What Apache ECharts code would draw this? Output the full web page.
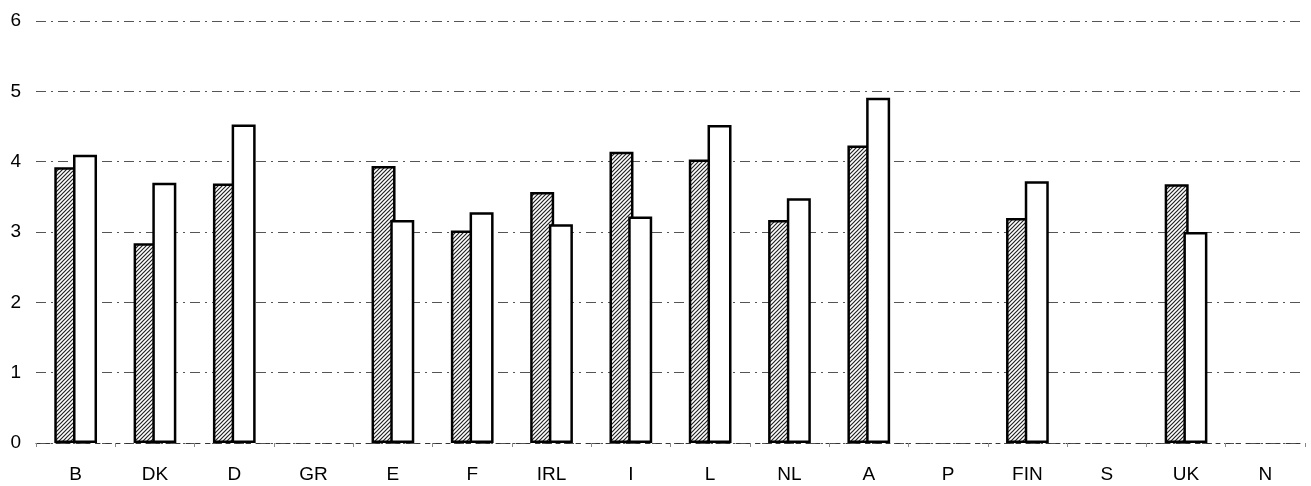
<!DOCTYPE html>
<html>
<head>
<meta charset="utf-8">
<script src="https://cdn.jsdelivr.net/npm/echarts@6/dist/echarts.min.js"></script>
<style>html,body{margin:0;padding:0;background:#fff;}#c{width:1311px;height:486px;}</style>
</head>
<body>
<div id="c"></div>
<script>
const categories = ['B','DK','D','GR','E','F','IRL','I','L','NL','A','P','FIN','S','UK','N'];
const seriesHatched = [3.92, 2.84, 3.69, null, 3.94, 3.02, 3.57, 4.14, 4.03, 3.17, 4.23, null, 3.20, null, 3.68, null];
const seriesWhite   = [4.10, 3.70, 4.53, null, 3.17, 3.28, 3.11, 3.22, 4.52, 3.48, 4.91, null, 3.72, null, 3.00, null];
const yTicks = [0, 1, 2, 3, 4, 5, 6];

function hatch() {
  const c = document.createElement('canvas');
  c.width = 4; c.height = 4;
  const g = c.getContext('2d');
  g.fillStyle = '#fff'; g.fillRect(0, 0, 4, 4);
  g.strokeStyle = '#222'; g.lineWidth = 1.2;
  g.beginPath();
  g.moveTo(-1, 5); g.lineTo(5, -1);
  g.moveTo(-1, 1); g.lineTo(1, -1);
  g.moveTo(3, 5); g.lineTo(5, 3);
  g.stroke();
  return c;
}

const chart = echarts.init(document.getElementById('c'), null, {renderer: 'canvas'});
chart.setOption({
  animation: false,
  backgroundColor: '#fff',
  grid: {left: 36, right: 6, top: 21, bottom: 43, containLabel: false},
  xAxis: {
    type: 'category',
    data: categories,
    axisLine: {show: true, lineStyle: {color: '#333', width: 1, type: [4, 6]}},
    axisTick: {show: true, length: 4, lineStyle: {color: '#888'}},
    axisLabel: {color: '#000', fontSize: 19, fontFamily: 'Liberation Sans, Arial, sans-serif', margin: 22},
    splitLine: {show: false}
  },
  yAxis: {
    type: 'value',
    min: yTicks[0], max: yTicks[yTicks.length - 1], interval: 1,
    axisLine: {show: false},
    axisTick: {show: false},
    axisLabel: {color: '#000', fontSize: 19, fontFamily: 'Liberation Sans, Arial, sans-serif', margin: 15,
      formatter: v => yTicks.includes(v) ? String(v) : ''},
    splitLine: {show: true, lineStyle: {color: '#555', width: 1, type: [10, 5, 2, 5]}}
  },
  series: [
    {
      type: 'bar',
      data: seriesHatched,
      barWidth: 24,
      barGap: '-22%',
      itemStyle: {color: {image: hatch(), repeat: 'repeat'}, borderColor: '#000', borderWidth: 2.5}
    },
    {
      type: 'bar',
      data: seriesWhite,
      barWidth: 24,
      itemStyle: {color: '#fff', borderColor: '#000', borderWidth: 2.5}
    }
  ]
});
</script>
</body>
</html>
